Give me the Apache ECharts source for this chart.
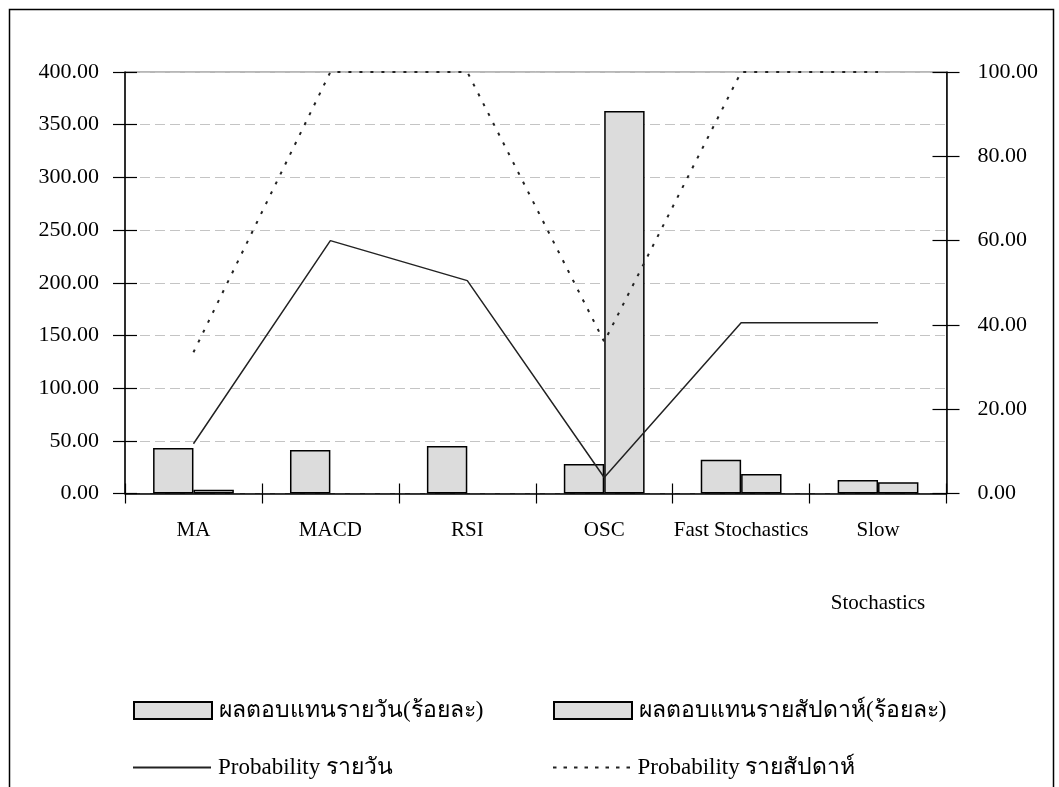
<!DOCTYPE html>
<html>
<head>
<meta charset="utf-8">
<script src="https://cdn.jsdelivr.net/npm/echarts@6/dist/echarts.min.js"></script>
<style>
  html, body { margin: 0; padding: 0; background: #fff; }
  #chart { width: 1059px; height: 787px; }
</style>
</head>
<body>
<div id="chart"></div>
<script>
// Indicators compared
const categories = ['MA', 'MACD', 'RSI', 'OSC', 'Fast Stochastics', 'Slow\nStochastics'];

// Returns (%), left axis
const dailyReturn  = [43.1, 41.2, 45.0, 27.9, 32.0, 12.8];
const weeklyReturn = [3.6, null, null, 363.0, 18.5, 10.6];

// Probability (%), right axis
const dailyProb  = [11.8, 60.0, 50.5, 3.8, 40.5, 40.5];
const weeklyProb = [33.5, 100, 100, 36.0, 100, 100];

// Series names shown in the legend
const names = ['ผลตอบแทนรายวัน(ร้อยละ)', 'ผลตอบแทนรายสัปดาห์(ร้อยละ)', 'Probability รายวัน', 'Probability รายสัปดาห์'];

const FONT = '"Liberation Serif", "Times New Roman", serif';
const chart = echarts.init(document.getElementById('chart'), null, { renderer: 'canvas' });

const axisText = { color: '#000', fontFamily: FONT, fontSize: 22 };
const fmt2 = v => Number(v).toFixed(2);

// legend key shapes: a plain stroke and a row of short dashes
const solidKey = 'path://M0,0H78V2H0Z';
let dashPath = '';
for (let x = 0; x <= 74; x += 10.5) dashPath += 'M' + x + ',0h3.5v2h-3.5Z';
const dottedKey = 'path://' + dashPath;

const legendBase = {
  orient: 'horizontal',
  itemWidth: 78,
  itemHeight: 17,
  selectedMode: false,
  textStyle: { color: '#000', fontFamily: FONT, fontSize: 23, padding: [0, 0, 0, 2] },
  padding: 0
};

chart.setOption({
  animation: false,
  backgroundColor: '#fff',
  graphic: [{
    type: 'rect',
    left: 7, top: 7,
    shape: { width: 1044, height: 800 },
    style: { fill: 'none', stroke: '#000', lineWidth: 1.5 },
    silent: true, z: -1
  }],
  grid: {
    left: 125, right: 112.5, top: 72, bottom: 293.5,
    show: true, borderColor: '#6e6e6e', borderWidth: 1, backgroundColor: 'transparent'
  },
  legend: [
    Object.assign({}, legendBase, { left: 133, top: 699, data: [{ name: names[0], icon: 'rect' }] }),
    Object.assign({}, legendBase, { left: 553, top: 699, data: [{ name: names[1], icon: 'rect' }] }),
    Object.assign({}, legendBase, { left: 133, top: 756, itemHeight: 2, data: [{ name: names[2], icon: solidKey }] }),
    Object.assign({}, legendBase, { left: 553, top: 756, itemHeight: 2, data: [{ name: names[3], icon: dottedKey }] })
  ],
  xAxis: [
    {
      type: 'category',
      data: categories,
      position: 'bottom',
      boundaryGap: true,
      axisLine: { show: true, lineStyle: { color: '#000', width: 1.5 } },
      axisTick: { show: true, inside: false, length: 10, lineStyle: { color: '#000', width: 1.2 } },
      axisLabel: {
        color: '#000', fontFamily: FONT, fontSize: 21, margin: 0,
        lineHeight: 73, interval: 0
      },
      splitLine: { show: false }
    },
    {
      // inner half of the crossing tick marks
      type: 'category',
      data: categories,
      position: 'bottom',
      boundaryGap: true,
      axisLine: { show: false },
      axisTick: { show: true, inside: true, length: 10, lineStyle: { color: '#000', width: 1.2 } },
      axisLabel: { show: false },
      splitLine: { show: false }
    }
  ],
  yAxis: [
    {
      type: 'value', position: 'left',
      min: 0, max: 400, interval: 50,
      axisLine: { show: true, lineStyle: { color: '#000', width: 1.5 } },
      axisTick: { show: true, inside: false, length: 12, lineStyle: { color: '#000', width: 1.2 } },
      axisLabel: Object.assign({ margin: 26, formatter: fmt2 }, axisText),
      splitLine: { show: true, lineStyle: { color: '#c4c4c4', width: 1, type: [10, 5] } }
    },
    {
      type: 'value', position: 'right',
      min: 0, max: 100, interval: 20,
      axisLine: { show: true, lineStyle: { color: '#000', width: 1.5 } },
      axisTick: { show: true, inside: false, length: 13, lineStyle: { color: '#000', width: 1.2 } },
      axisLabel: Object.assign({ margin: 31, formatter: fmt2 }, axisText),
      splitLine: { show: false }
    },
    {
      type: 'value', position: 'left',
      min: 0, max: 400, interval: 50,
      axisLine: { show: false },
      axisTick: { show: true, inside: true, length: 12, lineStyle: { color: '#000', width: 1.2 } },
      axisLabel: { show: false },
      splitLine: { show: false }
    },
    {
      type: 'value', position: 'right',
      min: 0, max: 100, interval: 20,
      axisLine: { show: false },
      axisTick: { show: true, inside: true, length: 14, lineStyle: { color: '#000', width: 1.2 } },
      axisLabel: { show: false },
      splitLine: { show: false }
    }
  ],
  series: [
    {
      name: names[0], type: 'bar', yAxisIndex: 0, data: dailyReturn,
      barGap: '0%', barCategoryGap: '41%',
      itemStyle: { color: '#dcdcdc', borderColor: '#000', borderWidth: 1.5 }
    },
    {
      name: names[1], type: 'bar', yAxisIndex: 0, data: weeklyReturn,
      barGap: '0%', barCategoryGap: '41%',
      itemStyle: { color: '#dcdcdc', borderColor: '#000', borderWidth: 1.5 }
    },
    {
      name: names[2], type: 'line', yAxisIndex: 1, data: dailyProb,
      symbol: 'none', z: 5,
      lineStyle: { color: '#222', width: 1.5, type: 'solid' },
      itemStyle: { color: '#222' }
    },
    {
      name: names[3], type: 'line', yAxisIndex: 1, data: weeklyProb,
      symbol: 'none', z: 5,
      lineStyle: { color: '#222', width: 2, type: [3, 8] },
      itemStyle: { color: '#222' }
    }
  ]
});
</script>
</body>
</html>
